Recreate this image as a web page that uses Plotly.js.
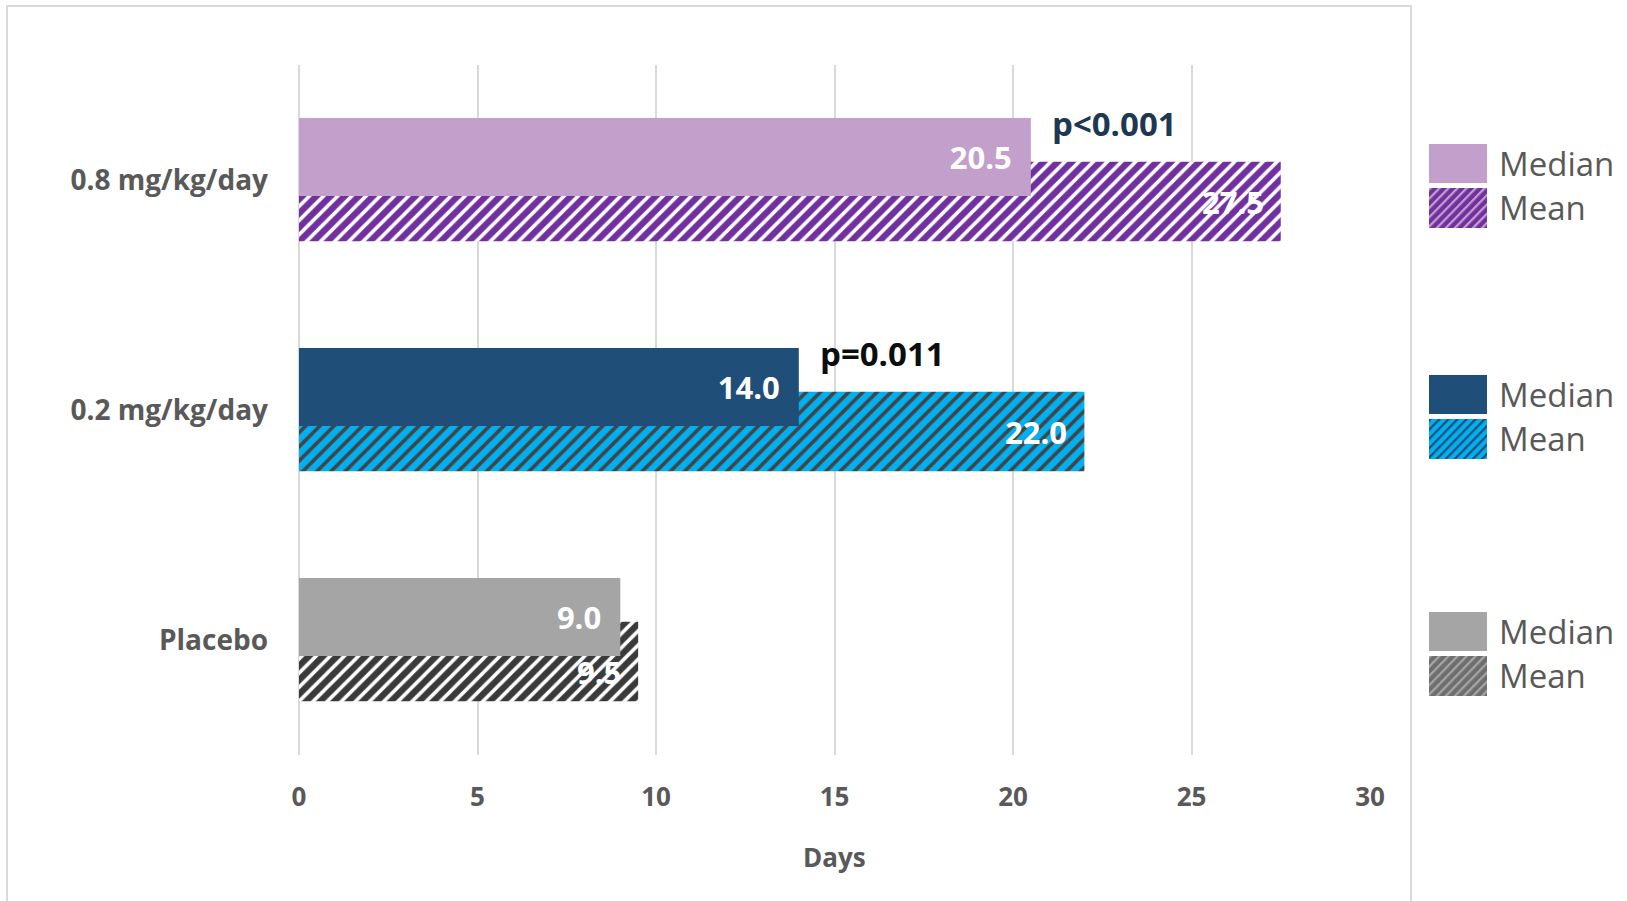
<!DOCTYPE html>
<html>
<head>
<meta charset="utf-8">
<script src="https://cdn.plot.ly/plotly-3.0.1.min.js"></script>
<style>html,body{margin:0;padding:0;background:#fff;}#chart{width:1627px;height:901px;}</style>
</head>
<body>
<div id="chart"></div>
<script>
// ---- data ----
const categories = ['Placebo', '0.2 mg/kg/day', '0.8 mg/kg/day'];
const medianDays = [9.0, 14.0, 20.5];
const meanDays = [9.5, 22.0, 27.5];
const pValueLabels = ['', 'p=0.011', 'p<0.001'];
const seriesNames = ['Median', 'Mean'];
const xTickValues = [0, 5, 10, 15, 20, 25, 30];
const xAxisTitle = 'Days';

// ---- styles ----
const medianColors = ['#A5A5A5', '#1F4E79', '#C39FCB'];
const meanBgColors = ['#3A3A3A', '#00B0F0', '#7030A0'];
const meanStripeColors = ['#A5A5A5', '#1F4E79', '#C39FCB'];
const legendMeanBg = ['#6E6E6E', '#00B0F0', '#7030A0'];
const pColors = ['#000000', '#0D0D0D', '#1F3852'];
const FONT = 'Open Sans, Noto Sans, sans-serif';
const GREY_TXT = '#595959';
const GRID = '#D9D9D9';

const W = 1627, H = 901, ML = 299, MR = 257, MT = 65, MB = 146;
const PW = W - ML - MR, PH = H - MT - MB;
const pX = x => (x - ML) / PW;
const pY = y => (H - MB - y) / PH;

const fmt = v => v.toFixed(1) + '\u00a0\u00a0';
const MEAN_W = 0.345, MEAN_OFF = -0.266, MED_W = 0.34, MED_OFF = -0.07;

const meanTrace = {
  type: 'bar', orientation: 'h', name: seriesNames[1],
  y: categories, x: meanDays,
  width: MEAN_W, offset: MEAN_OFF,
  marker: {
    color: meanBgColors, line: {width: 0},
    pattern: {shape: '/', fillmode: 'overlay', bgcolor: meanBgColors, fgcolor: meanStripeColors, fgopacity: 1, size: 10, solidity: 0.36}
  },
  textposition: 'none', hoverinfo: 'skip'
};
const medianTrace = {
  type: 'bar', orientation: 'h', name: seriesNames[0],
  y: categories, x: medianDays,
  width: MED_W, offset: MED_OFF,
  marker: {color: medianColors, line: {width: 0}},
  text: medianDays.map(fmt), textposition: 'inside', insidetextanchor: 'end',
  textfont: {family: FONT, size: 31, color: '#FFFFFF', weight: 700},
  constraintext: 'none', cliponaxis: false, hoverinfo: 'skip'
};

const annotations = [];
categories.forEach((c, i) => {
  // mean value labels, drawn above the median bars
  const hidden = medianDays[i] > meanDays[i] - 2;
  annotations.push({
    x: meanDays[i], y: i + MEAN_OFF + MEAN_W / 2, xref: 'x', yref: 'y',
    xanchor: 'right', yanchor: 'middle', xshift: -15, yshift: hidden ? -10 : 0,
    text: meanDays[i].toFixed(1), showarrow: false,
    font: {family: FONT, size: 31, color: '#FFFFFF', weight: 700}
  });
  if (pValueLabels[i]) {
    annotations.push({
      x: medianDays[i] + 0.55, y: i + 0.245, xref: 'x', yref: 'y',
      text: pValueLabels[i], showarrow: false, xanchor: 'left', yanchor: 'middle',
      font: {family: FONT, size: 33, color: pColors[i], weight: 700}
    });
  }
});
annotations.push({
  x: 0.5, y: 0, xref: 'paper', yref: 'paper', yanchor: 'middle', yshift: -(857 - (H - MB)),
  text: xAxisTitle, showarrow: false,
  font: {family: FONT, size: 26, color: GREY_TXT, weight: 700}
});

// legend groups (one per category, placed beside it)
const shapes = [{
  type: 'rect', xref: 'paper', yref: 'paper', layer: 'below',
  x0: pX(7), x1: pX(1411), y0: pY(6), y1: pY(910),
  line: {color: GRID, width: 2}, fillcolor: 'rgba(0,0,0,0)'
}];
const images = [];
const legendMedianTop = [612, 375, 144];
const swX0 = 1429, swW = 58, swH = 39, swGap = 44;
function stripeSvg(bg, fg) {
  const svg = "<svg xmlns='http://www.w3.org/2000/svg' width='" + swW + "' height='" + swH + "'>" +
    "<defs><pattern id='p' width='6.4' height='6.4' patternUnits='userSpaceOnUse' patternTransform='rotate(45)'>" +
    "<rect width='6.4' height='6.4' fill='" + bg + "'/><rect width='2.2' height='6.4' fill='" + fg + "'/></pattern></defs>" +
    "<rect width='" + swW + "' height='" + swH + "' fill='url(#p)'/></svg>";
  return 'data:image/svg+xml;base64,' + btoa(svg);
}
categories.forEach((c, i) => {
  const top = legendMedianTop[i];
  shapes.push({
    type: 'rect', xref: 'paper', yref: 'paper',
    x0: pX(swX0), x1: pX(swX0 + swW), y0: pY(top), y1: pY(top + swH),
    line: {width: 0}, fillcolor: medianColors[i]
  });
  images.push({
    source: stripeSvg(legendMeanBg[i], meanStripeColors[i]),
    xref: 'paper', yref: 'paper', x: pX(swX0), y: pY(top + swGap),
    sizex: swW / PW, sizey: (swH + 1) / PH, xanchor: 'left', yanchor: 'top', sizing: 'stretch', layer: 'above'
  });
  [seriesNames[0], seriesNames[1]].forEach((nm, k) => {
    annotations.push({
      xref: 'paper', yref: 'paper', x: pX(1497), y: pY(top + swH / 2 + k * swGap),
      xanchor: 'left', yanchor: 'middle', showarrow: false, text: nm,
      font: {family: FONT, size: 33, color: GREY_TXT}
    });
  });
});

const layout = {
  width: W, height: H,
  margin: {l: ML, r: MR, t: MT, b: MB, pad: 0},
  paper_bgcolor: '#FFFFFF', plot_bgcolor: '#FFFFFF',
  barmode: 'overlay', showlegend: false,
  xaxis: {
    range: [0, 30], tickvals: xTickValues, ticktext: xTickValues.map(String),
    showgrid: true, gridcolor: GRID, gridwidth: 2,
    zeroline: true, zerolinecolor: GRID, zerolinewidth: 2,
    showline: false, ticks: '', ticklabelstandoff: 24,
    tickfont: {family: FONT, size: 26, color: GREY_TXT, weight: 700}, fixedrange: true
  },
  yaxis: {
    type: 'category', categoryorder: 'array', categoryarray: categories,
    range: [-0.5, 2.5], showgrid: false, zeroline: false, showline: false, ticks: '',
    ticklabelstandoff: 30,
    tickfont: {family: FONT, size: 28, color: GREY_TXT, weight: 700}, fixedrange: true
  },
  annotations: annotations, shapes: shapes, images: images
};

Plotly.newPlot('chart', [meanTrace, medianTrace], layout, {displayModeBar: false, staticPlot: true});
</script>
</body>
</html>
